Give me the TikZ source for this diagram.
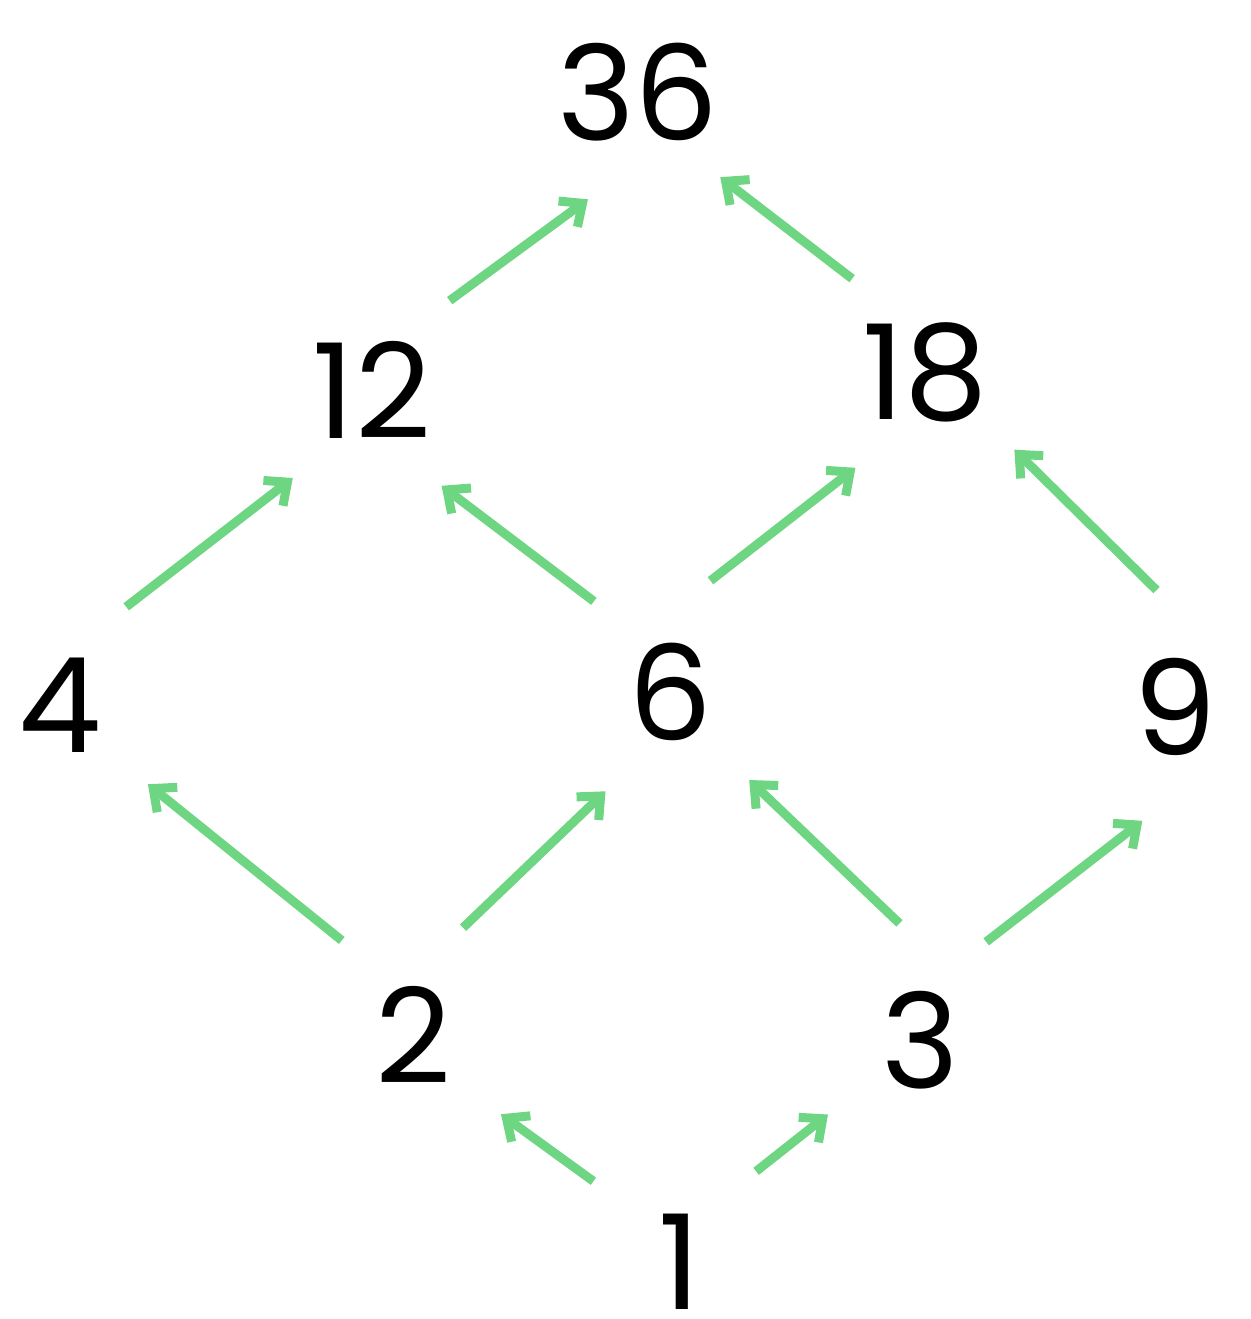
\documentclass[tikz,border=0pt]{standalone}
\usepackage{fontspec}
\setmainfont{Poppins}
\usetikzlibrary{arrows.meta}
\definecolor{arr}{RGB}{110,214,130}
\begin{document}
\begin{tikzpicture}[x=0.5pt,y=-0.5pt,
  num/.style={circle,inner sep=0pt,minimum size=118pt,font=\fontsize{66}{66}\selectfont},
  edge/.style={draw=arr,line width=4.5pt,-{Straight Barb[length=9pt,width=16pt,line width=4.5pt]}}]
\useasboundingbox (0,0) rectangle (1250,1319);
\node[num] (n36) at (638,92) {36};
\node[num] (n12) at (372,390) {12};
\node[num] (n18) at (925,372) {18};
\node[num] (n4) at (60,705) {4};
\node[num] (n6) at (670,692) {6};
\node[num] (n9) at (1175,707) {9};
\node[num] (n2) at (413,1035) {2};
\node[num] (n3) at (920,1040) {3};
\node[num] (n1) at (680,1262) {1};
\draw[edge] (n12.49) -- (n36.245);
\draw[edge] (n18.128) -- (n36.314);
\draw[edge] (n4.56) -- (n12.228);
\draw[edge] (n6.130) -- (n12.306);
\draw[edge] (n6.70) -- (n18.234);
\draw[edge] (n9.99) -- (n18.319);
\draw[edge] (n2.127) -- (n4.318);
\draw[edge] (n2.65) -- (n6.237);
\draw[edge] (n3.100) -- (n6.312);
\draw[edge] (n3.56) -- (n9.254);
\draw[edge] (n1.137) -- (n2.318);
\draw[edge] (n1.50) -- (n3.219);
\end{tikzpicture}
\end{document}
